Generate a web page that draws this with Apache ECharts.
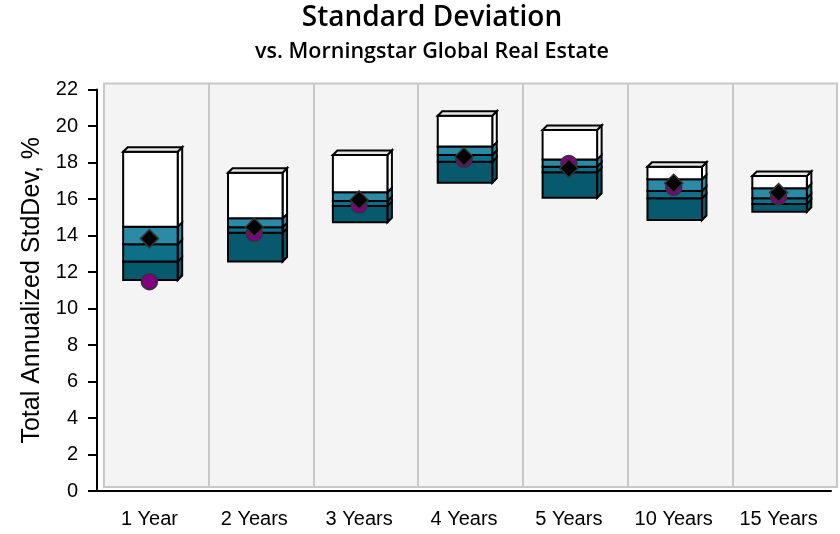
<!DOCTYPE html>
<html>
<head>
<meta charset="utf-8">
<script src="https://cdn.jsdelivr.net/npm/echarts@6/dist/echarts.min.js"></script>
<style>html,body{margin:0;padding:0;background:#fff}#c{width:840px;height:534px}</style>
</head>
<body>
<div id="c"></div>
<script>
const categories = ['1 Year', '2 Years', '3 Years', '4 Years', '5 Years', '10 Years', '15 Years'];
// percentile bands of the peer group (bottom -> top)
const p95 = [11.56, 12.57, 14.72, 16.89, 16.07, 14.85, 15.30];
const p75 = [12.57, 14.15, 15.62, 18.04, 17.46, 16.04, 15.73];
const p50 = [13.52, 14.45, 15.89, 18.41, 17.77, 16.44, 16.04];
const p25 = [14.48, 14.94, 16.37, 18.87, 18.17, 17.08, 16.59];
const p5  = [18.59, 17.44, 18.41, 20.56, 19.78, 17.77, 17.26];
const fund = [13.83, 14.45, 15.95, 18.32, 17.68, 16.86, 16.35];
const benchmark = [11.47, 14.12, 15.67, 18.17, 17.95, 16.64, 16.13];
const yTicks = [0, 2, 4, 6, 8, 10, 12, 14, 16, 18, 20, 22];

const segColors = ['#075a6e', '#0e6f89', '#2b8aa6', '#ffffff'];

const boxData = categories.map((c, i) => [i, p95[i], p75[i], p50[i], p25[i], p5[i]]);

function renderBox(params, api) {
  const i = api.value(0);
  const vals = [api.value(1), api.value(2), api.value(3), api.value(4), api.value(5)];
  const catW = api.size([1, 0])[0];
  const w = catW * 0.52;
  const cx = api.coord([i, 0])[0] + 1;
  const x0 = cx - w / 2, x1 = x0 + w;
  const d = 4.5;
  const children = [];
  const line = { stroke: '#000', lineWidth: 2, lineJoin: 'miter' };
  for (let k = 0; k < 4; k++) {
    const yb = api.coord([i, vals[k]])[1];
    const yt = api.coord([i, vals[k + 1]])[1];
    children.push({
      type: 'polygon',
      shape: { points: [[x1, yb], [x1, yt], [x1 + d, yt - d], [x1 + d, yb - d]] },
      style: Object.assign({ fill: segColors[k] }, line)
    });
    children.push({
      type: 'rect',
      shape: { x: x0, y: yt, width: w, height: yb - yt },
      style: Object.assign({ fill: segColors[k] }, line)
    });
  }
  const ytop = api.coord([i, vals[4]])[1];
  children.push({
    type: 'polygon',
    shape: { points: [[x0, ytop], [x0 + d, ytop - d], [x1 + d, ytop - d], [x1, ytop]] },
    style: Object.assign({ fill: '#e6e6e6' }, line)
  });
  return { type: 'group', children };
}

const chart = echarts.init(document.getElementById('c'), null, { renderer: 'canvas' });
chart.setOption({
  backgroundColor: '#ffffff',
  animation: false,
  title: [{
    text: 'Standard Deviation',
    left: 427, top: -1, textAlign: 'center',
    textStyle: { fontFamily: 'Open Sans', fontWeight: 600, fontSize: 28, color: '#000' }
  }, {
    text: 'vs. Morningstar Global Real Estate',
    left: 427, top: 36, textAlign: 'center',
    textStyle: { fontFamily: 'Open Sans', fontWeight: 600, fontSize: 21.5, color: '#000' }
  }],
  grid: [
    { left: 97, right: 9, top: 89.5, bottom: 43 },
    { left: 104, right: 3, top: 83.5, bottom: 47, show: true, backgroundColor: '#f4f4f4', borderColor: '#c8c8c8', borderWidth: 2, z: -1 }
  ],
  xAxis: [{
    type: 'category', data: categories, gridIndex: 0,
    axisLine: { lineStyle: { color: '#000', width: 2 } },
    axisTick: { alignWithLabel: true, length: 5, lineStyle: { color: '#000', width: 2 } },
    axisLabel: { color: '#000', fontFamily: 'Liberation Sans', fontSize: 20, margin: 18 },
    splitLine: { show: false }
  }, {
    type: 'category', data: categories, gridIndex: 1,
    axisLine: { show: false }, axisTick: { show: false }, axisLabel: { show: false },
    splitLine: { show: true, lineStyle: { color: '#c8c8c8', width: 2 } }
  }],
  yAxis: [{
    type: 'value', min: 0, max: 22, interval: 2, gridIndex: 0,
    name: 'Total Annualized StdDev, %', nameLocation: 'middle', nameGap: 50,
    nameTextStyle: { fontFamily: 'Liberation Sans', fontSize: 25, color: '#000' },
    axisLine: { show: true, lineStyle: { color: '#000', width: 2 } },
    axisTick: { show: true, length: 9, lineStyle: { color: '#000', width: 2 } },
    axisLabel: { color: '#000', fontFamily: 'Liberation Sans', fontSize: 20, margin: 19,
      formatter: v => yTicks.indexOf(v) >= 0 ? String(v) : '' },
    splitLine: { show: false }
  }, {
    type: 'value', min: 0, max: 22, gridIndex: 1, show: false, splitLine: { show: false }
  }],
  series: [{
    type: 'custom', name: 'Peer group', xAxisIndex: 0, yAxisIndex: 0,
    renderItem: renderBox, data: boxData, z: 3
  }, {
    type: 'scatter', name: 'Morningstar Global Real Estate', xAxisIndex: 0, yAxisIndex: 0,
    data: benchmark, symbol: 'circle', symbolSize: 16, z: 4,
    itemStyle: { color: '#800080', borderColor: '#333', borderWidth: 1.5, opacity: 1 }
  }, {
    type: 'scatter', name: 'Fund', xAxisIndex: 0, yAxisIndex: 0,
    data: fund, symbol: 'diamond', symbolSize: [18, 18], z: 5,
    itemStyle: { color: '#000', borderColor: '#333', borderWidth: 1.5, opacity: 1 }
  }]
});
</script>
</body>
</html>
